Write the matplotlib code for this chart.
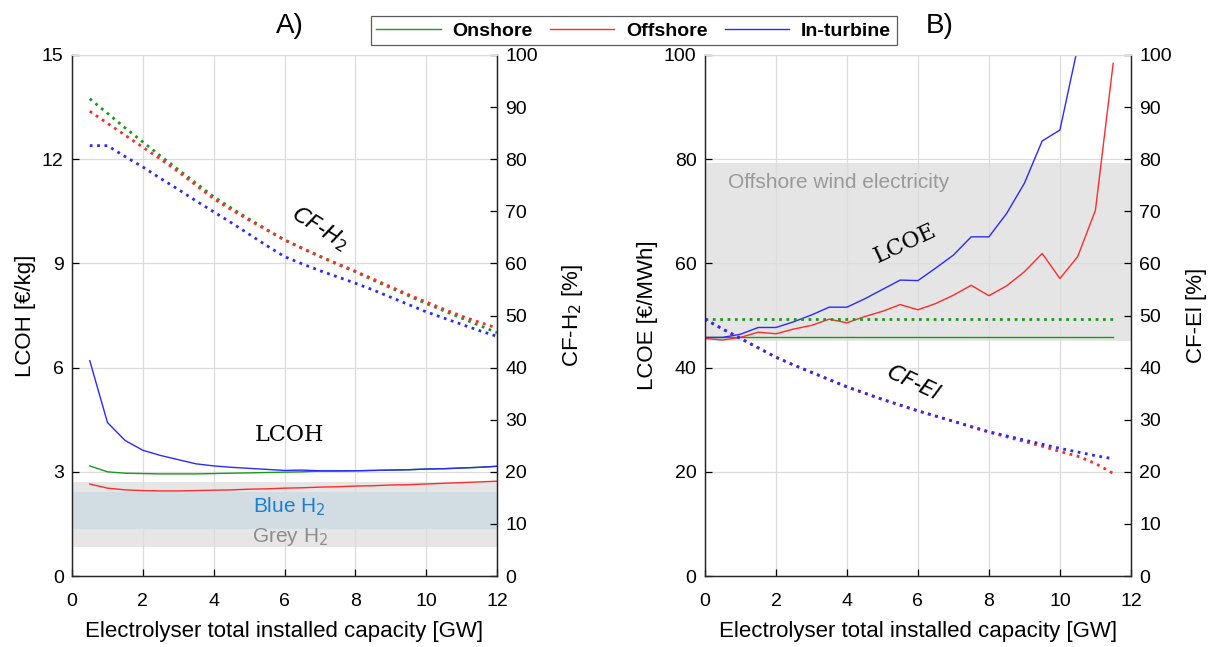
import numpy as np
import matplotlib.pyplot as plt

plt.rcParams['font.family'] = ['Liberation Sans', 'DejaVu Sans']

# ---- panel A data (electrolyser capacity, GW) ----
cap_a = [0.5, 1, 1.5, 2, 2.5, 3, 3.5, 4, 4.5, 5, 5.5, 6, 6.5, 7, 7.5, 8,
         8.5, 9, 9.5, 10, 10.5, 11, 11.5, 12]

lcoh_on = [3.17, 3.00, 2.96, 2.95, 2.94, 2.94, 2.94, 2.95, 2.96, 2.97, 2.98, 2.99,
           3.00, 3.02, 3.02, 3.03, 3.04, 3.05, 3.06, 3.08, 3.09, 3.11, 3.13, 3.16]
lcoh_off = [2.65, 2.53, 2.48, 2.46, 2.45, 2.45, 2.46, 2.47, 2.48, 2.50, 2.51, 2.53,
            2.54, 2.56, 2.57, 2.59, 2.60, 2.62, 2.63, 2.65, 2.67, 2.69, 2.71, 2.73]
lcoh_turb = [6.20, 4.42, 3.90, 3.62, 3.47, 3.35, 3.23, 3.17, 3.13, 3.10, 3.07, 3.04,
             3.05, 3.03, 3.03, 3.03, 3.04, 3.05, 3.06, 3.08, 3.09, 3.11, 3.13, 3.16]

cfh2_on = [91.6, 88.8, 86.0, 83.3, 80.6, 78.0, 75.4, 72.8, 70.6, 68.5, 66.5, 64.5,
           62.9, 61.3, 59.8, 58.4, 56.8, 55.3, 53.8, 52.3, 50.9, 49.5, 48.1, 46.7]
cfh2_off = [89.2, 86.9, 84.6, 82.3, 80.0, 77.6, 75.0, 72.4, 70.3, 68.3, 66.4, 64.5,
            62.9, 61.4, 59.9, 58.5, 57.0, 55.5, 54.0, 52.6, 51.2, 49.9, 48.7, 47.6]
cfh2_turb = [82.6, 82.6, 80.5, 78.5, 76.3, 74.2, 72.0, 69.9, 67.8, 65.6, 63.4, 61.3,
             59.9, 58.6, 57.4, 56.2, 54.9, 53.5, 52.1, 50.7, 49.5, 48.3, 47.1, 46.0]

grey_h2 = [0.83, 2.71]
blue_h2 = [1.34, 2.41]

# ---- panel B data ----
cap_b = [0, 0.5, 1, 1.5, 2, 2.5, 3, 3.5, 4, 4.5, 5, 5.5, 6, 6.5, 7, 7.5, 8,
         8.5, 9, 9.5, 10, 10.5, 11, 11.5]

lcoe_on = [45.8] * len(cap_b)
lcoe_off = [45.6, 45.3, 45.8, 46.8, 46.5, 47.4, 48.1, 49.3, 48.6, 49.8, 50.8, 52.1,
            51.1, 52.3, 53.9, 55.8, 53.8, 55.7, 58.4, 61.9, 57.1, 61.3, 70.2, 98.4]
lcoe_turb = [45.8, 45.8, 46.4, 47.7, 47.7, 48.8, 50.1, 51.6, 51.6, 53.2, 55.0, 56.8,
             56.7, 59.1, 61.6, 65.1, 65.1, 69.6, 75.4, 83.5, 85.6, 101.5, 125, 150]

cfel_on = [49.3] * len(cap_b)
cfel_off = [49.3, 47.4, 45.6, 43.8, 42.0, 40.5, 39.1, 37.7, 36.3, 35.1, 33.9, 32.8,
            31.7, 30.7, 29.7, 28.6, 27.6, 26.7, 25.8, 24.9, 23.9, 23.0, 21.6, 19.7]
cfel_turb = [49.3, 47.4, 45.6, 43.8, 42.0, 40.5, 39.1, 37.7, 36.3, 35.1, 33.9, 32.8,
             31.7, 30.7, 29.7, 28.7, 27.7, 26.9, 26.1, 25.3, 24.5, 23.8, 23.1, 22.5]

offshore_el = [45.2, 79.3]

c_on, c_off, c_turb = '#1a9a1a', '#ff2a2a', '#2a2aff'
fs_tick = 14
fs_lab = 16

fig = plt.figure(figsize=(12.15, 6.47), dpi=100)
axA = fig.add_axes([0.0593, 0.1097, 0.3498, 0.8053])
axB = fig.add_axes([0.5802, 0.1097, 0.3506, 0.8053])


def style(ax, ax2):
    ax.grid(True, color='#dcdcdc', lw=0.9)
    ax.set_axisbelow(True)
    for a in (ax, ax2):
        a.tick_params(direction='in', labelsize=fs_tick, length=5, width=0.9)
        a.spines['top'].set_color('#dcdcdc')
        for s in ('left', 'right', 'bottom'):
            a.spines[s].set_color('#262626')
            a.spines[s].set_linewidth(0.9)
    ax.tick_params(axis='x', pad=12)
    ax.tick_params(axis='y', pad=6)
    ax2.tick_params(axis='y', pad=6)


# ----- A -----
axA2 = axA.twinx()
axA.axhspan(grey_h2[0], grey_h2[1], color='#e6e6e6', lw=0, zorder=0.5)
axA.axhspan(blue_h2[0], blue_h2[1], color='#d1dde3', lw=0, zorder=0.6)
axA.plot(cap_a, lcoh_on, color=c_on, lw=1.0, label='Onshore')
axA.plot(cap_a, lcoh_off, color=c_off, lw=1.0, label='Offshore')
axA.plot(cap_a, lcoh_turb, color=c_turb, lw=1.0, label='In-turbine')
axA2.plot(cap_a, cfh2_on, color=c_on, lw=2, ls=':')
axA2.plot(cap_a, cfh2_off, color=c_off, lw=2, ls=':')
axA2.plot(cap_a, cfh2_turb, color=c_turb, lw=2, ls=':')
axA.set_xlim(0, 12)
axA.set_ylim(0, 15)
axA.set_yticks([0, 3, 6, 9, 12, 15])
axA.set_xticks(range(0, 13, 2))
axA2.set_ylim(0, 100)
axA2.set_yticks(range(0, 101, 10))
axA.set_ylabel('LCOH [€/kg]', fontsize=fs_lab)
axA2.set_ylabel('CF-H$_2$ [%]', fontsize=fs_lab, labelpad=16)
axA.set_xlabel('Electrolyser total installed capacity [GW]', fontsize=fs_lab, labelpad=8)
axA.text(6.15, 2.0, 'Blue H$_2$', color='#1a7fcc', fontsize=15, ha='center', va='center')
axA.text(6.15, 1.12, 'Grey H$_2$', color='#8c8c8c', fontsize=15, ha='center', va='center')
axA.text(6.15, 4.06, 'LCOH', family='DejaVu Serif', fontsize=16, ha='center', va='center')
axA.text(7.0, 10.0, '$CF$-$H_2$', family='DejaVu Serif', fontsize=16, ha='center',
         va='center', rotation=-32)
axA.set_title('A)', fontsize=20, pad=16, x=0.513)
style(axA, axA2)

# ----- B -----
axB2 = axB.twinx()
axB.axhspan(offshore_el[0], offshore_el[1], color='#e5e5e5', lw=0, zorder=0.5)
axB.plot(cap_b, lcoe_on, color=c_on, lw=1.0)
axB.plot(cap_b, lcoe_off, color=c_off, lw=1.0)
axB.plot(cap_b, lcoe_turb, color=c_turb, lw=1.0)
axB2.plot(cap_b, cfel_on, color=c_on, lw=2, ls=':')
axB2.plot(cap_b, cfel_off, color=c_off, lw=2, ls=':')
axB2.plot(cap_b, cfel_turb, color=c_turb, lw=2, ls=':')
axB.set_xlim(0, 12)
axB.set_ylim(0, 100)
axB.set_yticks(range(0, 101, 20))
axB.set_xticks(range(0, 13, 2))
axB2.set_ylim(0, 100)
axB2.set_yticks(range(0, 101, 10))
axB.set_ylabel('LCOE [€/MWh]', fontsize=fs_lab)
axB2.set_ylabel('CF-El [%]', fontsize=fs_lab, labelpad=10)
axB.set_xlabel('Electrolyser total installed capacity [GW]', fontsize=fs_lab, labelpad=8)
axB.text(0.65, 75.5, 'Offshore wind electricity', color='#999999', fontsize=15,
         ha='left', va='center')
axB.text(5.63, 63.9, 'LCOE', family='DejaVu Serif', fontsize=16, ha='center',
         va='center', rotation=25)
axB.text(5.87, 37.0, '$CF$-$El$', family='DejaVu Serif', fontsize=16, ha='center',
         va='center', rotation=-25)
axB.set_title('B)', fontsize=20, pad=16, x=0.552)
style(axB, axB2)

leg = fig.legend(loc='upper center', bbox_to_anchor=(0.5215, 0.99), ncol=3,
                 prop={'weight': 'bold', 'size': 14}, frameon=True, fancybox=False,
                 edgecolor='#333333', handlelength=3.3, columnspacing=0.9,
                 handletextpad=0.6, borderpad=0.3)
leg.get_frame().set_linewidth(0.9)

fig.savefig('out.png', dpi=100)
